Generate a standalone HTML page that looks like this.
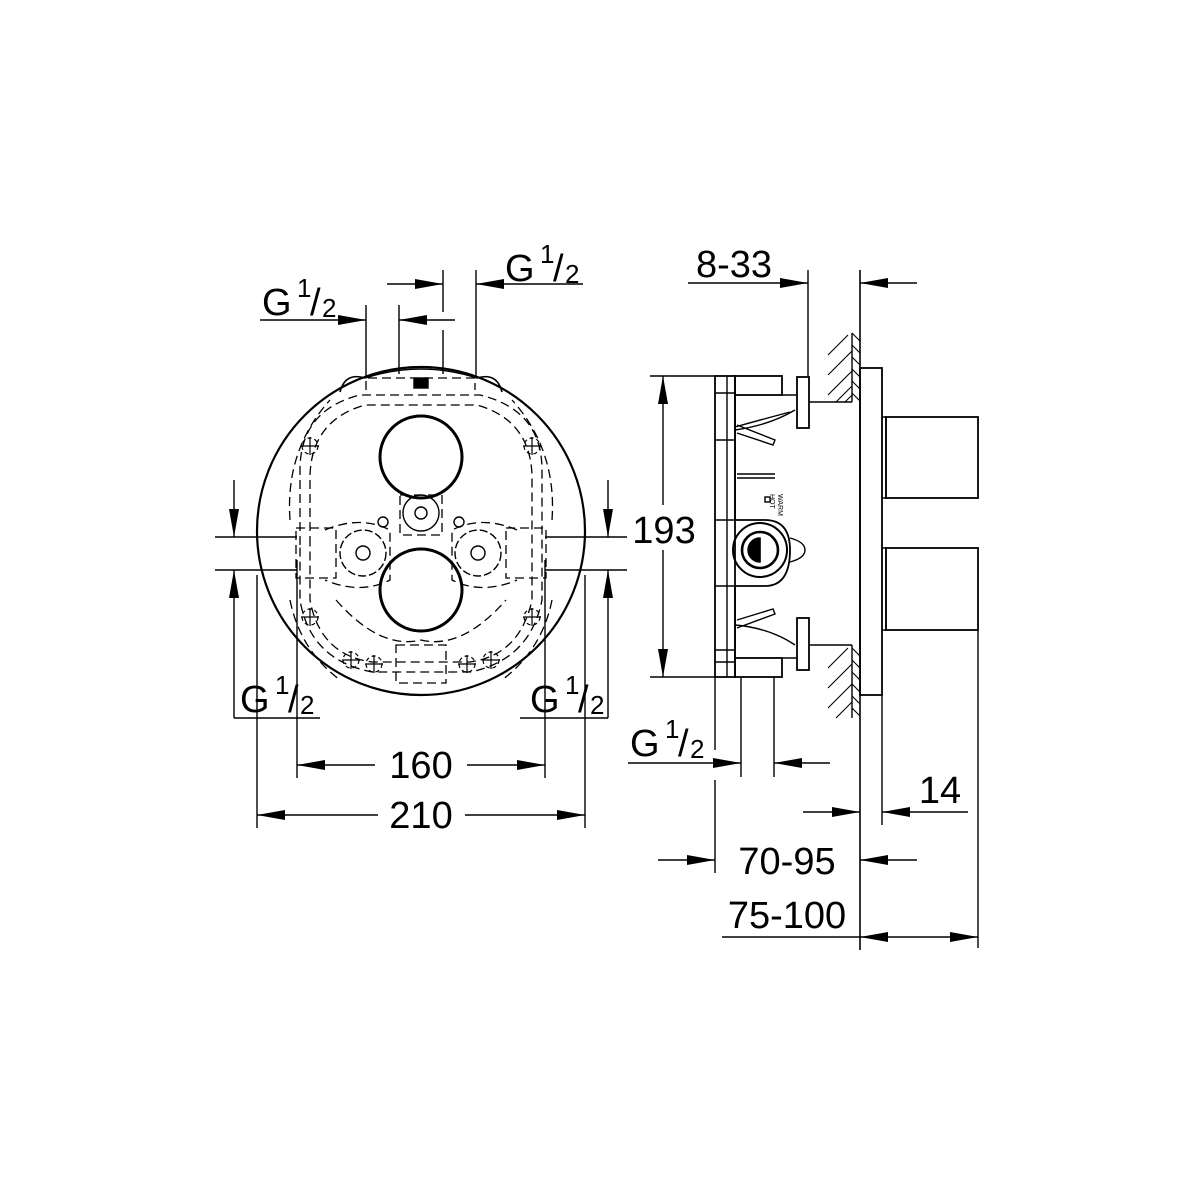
<!DOCTYPE html>
<html><head><meta charset="utf-8"><style>
html,body{margin:0;padding:0;background:#fff}
svg{display:block}
text{font-family:"Liberation Sans",Arial,sans-serif;fill:#000}
</style></head><body>
<svg width="1200" height="1200" viewBox="0 0 1200 1200" xmlns="http://www.w3.org/2000/svg">
<defs>
<g id="aR"><polygon points="0,0 -28,-5 -28,5" fill="#000"/></g>
<g id="aL"><polygon points="0,0 28,-5 28,5" fill="#000"/></g>
<g id="aD"><polygon points="0,0 -5,-28 5,-28" fill="#000"/></g>
<g id="aU"><polygon points="0,0 -5,28 5,28" fill="#000"/></g>
<g id="cross" fill="none" stroke="#000" stroke-width="1.2"><circle r="8" stroke-dasharray="4 3"/><line x1="-9" y1="0" x2="9" y2="0"/><line x1="0" y1="-9" x2="0" y2="9"/></g>
</defs>
<g stroke="#000" fill="none" stroke-width="1.4">
<!-- FRONT VIEW -->
<circle cx="421" cy="531" r="164" stroke-width="2.2"/>
<circle cx="421" cy="457" r="41" stroke-width="3"/>
<circle cx="421" cy="590" r="41" stroke-width="3"/>
<!-- dashed internals -->
<g stroke-dasharray="9 5" stroke-width="1.3">
<path d="M300 545 L300 470 Q300 410 360 395 L480 395 Q542 410 542 470 L542 600 Q530 660 470 672 L372 672 Q310 660 300 600 Z"/>
<path d="M310 545 L310 475 Q312 420 365 405 L477 405 Q530 420 532 475 L532 600 Q520 655 470 662 L372 662 Q320 655 310 600 Z"/>
<path d="M290 520 Q285 450 330 400 M552 520 Q557 450 512 400"/>
<path d="M290 600 Q300 650 340 680 M552 600 Q542 650 502 680"/>
<rect x="296" y="528" width="40" height="50"/>
<rect x="506" y="528" width="40" height="50"/>
<path d="M325 530 Q360 515 390 530 L390 580 Q360 595 325 580"/>
<path d="M517 530 Q482 515 452 530 L452 580 Q482 595 517 580"/>
<rect x="400" y="495" width="42" height="40"/>
<rect x="396" y="645" width="50" height="38"/>
<path d="M336 600 Q380 650 421 640 Q462 650 506 600"/>
<path d="M366 390 L366 378 L475 378 L475 390"/>
</g>
<path d="M340 392 Q345 372 365 378 M502 392 Q497 372 477 378" stroke-width="1.6"/>
<path d="M365 378 Q421 360 477 378" stroke-width="1.6"/>
<rect x="414" y="378" width="14" height="10" fill="#000"/>
<circle cx="421" cy="513" r="18"/><circle cx="421" cy="513" r="6"/>
<circle cx="363" cy="553" r="23" stroke-dasharray="8 3"/><circle cx="363" cy="553" r="7"/>
<circle cx="478" cy="553" r="23" stroke-dasharray="8 3"/><circle cx="478" cy="553" r="7"/>
<circle cx="383" cy="522" r="5"/><circle cx="459" cy="522" r="5"/>
<use href="#cross" x="310" y="446"/><use href="#cross" x="532" y="446"/>
<use href="#cross" x="310" y="617"/><use href="#cross" x="532" y="617"/>
<use href="#cross" x="351" y="660"/><use href="#cross" x="491" y="660"/>
<use href="#cross" x="374" y="664"/><use href="#cross" x="467" y="664"/>
<!-- front dims -->
<line x1="215" y1="537" x2="297" y2="537"/><line x1="215" y1="570" x2="297" y2="570"/>
<line x1="545" y1="537" x2="627" y2="537"/><line x1="545" y1="570" x2="627" y2="570"/>
<line x1="234" y1="480" x2="234" y2="537"/><line x1="234" y1="570" x2="234" y2="718"/>
<line x1="608" y1="480" x2="608" y2="537"/><line x1="608" y1="570" x2="608" y2="718"/>
<line x1="234" y1="718" x2="320" y2="718"/><line x1="520" y1="718" x2="608" y2="718"/>
<line x1="257" y1="575" x2="257" y2="828"/><line x1="297" y1="560" x2="297" y2="778"/>
<line x1="545" y1="560" x2="545" y2="778"/><line x1="585" y1="575" x2="585" y2="828"/>
<line x1="297" y1="765" x2="375" y2="765"/><line x1="467" y1="765" x2="545" y2="765"/>
<line x1="257" y1="815" x2="378" y2="815"/><line x1="465" y1="815" x2="585" y2="815"/>
<!-- top dims -->
<line x1="366" y1="305" x2="366" y2="378"/><line x1="399" y1="305" x2="399" y2="374"/>
<line x1="443" y1="270" x2="443" y2="312"/><line x1="443" y1="330" x2="443" y2="374"/>
<line x1="476" y1="270" x2="476" y2="378"/>
<line x1="387" y1="284" x2="443" y2="284"/><line x1="476" y1="284" x2="583" y2="284"/>
<line x1="260" y1="320" x2="366" y2="320"/><line x1="399" y1="320" x2="455" y2="320"/>
<!-- SIDE VIEW -->
<line x1="650" y1="376" x2="715" y2="376"/><line x1="650" y1="677" x2="715" y2="677"/>
<line x1="663" y1="376" x2="663" y2="505"/><line x1="663" y1="550" x2="663" y2="677"/>
<rect x="715" y="376" width="20" height="301" stroke-width="1.8"/>
<line x1="727" y1="376" x2="727" y2="677"/>
<line x1="715" y1="393" x2="735" y2="393"/><line x1="715" y1="440" x2="735" y2="440"/>
<line x1="715" y1="520" x2="735" y2="520"/><line x1="715" y1="586" x2="735" y2="586"/>
<line x1="715" y1="650" x2="735" y2="650"/><line x1="715" y1="662" x2="735" y2="662"/>
<rect x="735" y="376" width="47" height="19" stroke-width="1.8"/>
<rect x="735" y="658" width="47" height="19" stroke-width="1.8"/>
<path d="M735 395 L735 520 M735 586 L735 658" stroke-width="1.8"/>
<path d="M782 395 L797 395 M782 658 L797 658"/>
<path d="M735 430 Q770 425 795 410 M735 625 Q770 628 795 645"/>
<path d="M735 427 Q760 420 790 412"/>
<path d="M737 425 L775 440 L773 445 L737 433 M737 628 L775 614 L773 609 L737 620"/>
<line x1="737" y1="474" x2="775" y2="474"/><line x1="737" y1="478" x2="775" y2="478"/>
<path d="M735 520 L765 520 Q790 520 790 550 Q790 586 765 586 L735 586" stroke-width="1.8"/>
<circle cx="760" cy="550" r="27" stroke-width="2"/><circle cx="760" cy="550" r="18" stroke-width="2.6"/>
<path d="M760 538 A12 12 0 0 0 760 562 Z" fill="#000"/><line x1="760" y1="538" x2="760" y2="562"/>
<path d="M790 538 Q805 542 805 550 Q805 558 790 562"/>
<rect x="765" y="497" width="5" height="5"/>
<rect x="797" y="377" width="12" height="51" stroke-width="1.8"/>
<rect x="797" y="618" width="12" height="52" stroke-width="1.8"/>
<line x1="809" y1="402" x2="852" y2="402"/><line x1="809" y1="645" x2="852" y2="645"/>
<line x1="808" y1="270" x2="808" y2="377"/>
<line x1="852" y1="333" x2="852" y2="402"/><line x1="852" y1="645" x2="852" y2="718"/>
<g stroke-width="1.1">
<path d="M828 355 L848 335 M828 375 L852 351 M828 395 L852 371 M836 402 L852 386 M845 402 L852 395"/>
<path d="M828 668 L848 648 M828 688 L852 664 M828 708 L852 684 M836 718 L852 702"/>
<path d="M852 333 L860 341 M852 345 L860 353 M852 357 L860 365 M852 369 L860 377 M852 381 L860 389 M852 393 L860 401"/>
<path d="M852 648 L860 656 M852 660 L860 668 M852 672 L860 680 M852 684 L860 692 M852 696 L860 704 M852 708 L860 716"/>
</g>
<line x1="860" y1="270" x2="860" y2="950" stroke-width="1.6"/>
<rect x="860" y="368" width="22" height="327" stroke-width="1.8"/>
<line x1="882" y1="695" x2="882" y2="825"/>
<path d="M882 417 L886 417 L886 498 L882 498 M882 548 L886 548 L886 630 L882 630"/>
<rect x="886" y="417" width="92" height="81" stroke-width="1.8"/>
<rect x="886" y="548" width="92" height="82" stroke-width="1.8"/>
<line x1="978" y1="630" x2="978" y2="948"/>
<!-- side dims -->
<line x1="688" y1="283" x2="808" y2="283"/><line x1="860" y1="283" x2="917" y2="283"/>
<line x1="715" y1="677" x2="715" y2="750"/><line x1="715" y1="780" x2="715" y2="873"/>
<line x1="741" y1="677" x2="741" y2="777"/><line x1="774" y1="677" x2="774" y2="777"/>
<line x1="628" y1="763" x2="741" y2="763"/><line x1="774" y1="763" x2="830" y2="763"/>
<line x1="803" y1="812" x2="860" y2="812"/><line x1="882" y1="812" x2="968" y2="812"/>
<line x1="658" y1="860" x2="715" y2="860"/><line x1="860" y1="860" x2="917" y2="860"/>
<line x1="722" y1="937" x2="978" y2="937"/>
</g>
<!-- arrows -->
<use href="#aR" x="443" y="284"/><use href="#aL" x="476" y="284"/>
<use href="#aR" x="366" y="320"/><use href="#aL" x="399" y="320"/>
<use href="#aD" x="234" y="537"/><use href="#aU" x="234" y="570"/>
<use href="#aD" x="608" y="537"/><use href="#aU" x="608" y="570"/>
<use href="#aL" x="297" y="765"/><use href="#aR" x="545" y="765"/>
<use href="#aL" x="257" y="815"/><use href="#aR" x="585" y="815"/>
<use href="#aU" x="663" y="376"/><use href="#aD" x="663" y="677"/>
<use href="#aR" x="808" y="283"/><use href="#aL" x="860" y="283"/>
<use href="#aR" x="741" y="763"/><use href="#aL" x="774" y="763"/>
<use href="#aR" x="860" y="812"/><use href="#aL" x="882" y="812"/>
<use href="#aR" x="715" y="860"/><use href="#aL" x="860" y="860"/>
<use href="#aL" x="860" y="937"/><use href="#aR" x="978" y="937"/>
<!-- labels -->
<g font-size="38">
<text x="262" y="315">G</text><text x="297" y="297" font-size="26">1</text><text x="310" y="315">/</text><text x="322" y="317" font-size="26">2</text>
<text x="505" y="281">G</text><text x="540" y="263" font-size="26">1</text><text x="553" y="281">/</text><text x="565" y="283" font-size="26">2</text>
<text x="240" y="712">G</text><text x="275" y="694" font-size="26">1</text><text x="288" y="712">/</text><text x="300" y="714" font-size="26">2</text>
<text x="530" y="712">G</text><text x="565" y="694" font-size="26">1</text><text x="578" y="712">/</text><text x="590" y="714" font-size="26">2</text>
<text x="630" y="756">G</text><text x="665" y="738" font-size="26">1</text><text x="678" y="756">/</text><text x="690" y="758" font-size="26">2</text>
<text x="421" y="778" text-anchor="middle">160</text>
<text x="421" y="828" text-anchor="middle">210</text>
<text x="664" y="543" text-anchor="middle">193</text>
<text x="734" y="277" text-anchor="middle">8-33</text>
<text x="940" y="803" text-anchor="middle">14</text>
<text x="787" y="874" text-anchor="middle">70-95</text>
<text x="787" y="928" text-anchor="middle">75-100</text>
</g>
<g font-size="7" transform="translate(778,494) rotate(90)"><text x="0" y="0">WARM</text><text x="0" y="8">HOT</text></g>
</svg>
</body></html>
